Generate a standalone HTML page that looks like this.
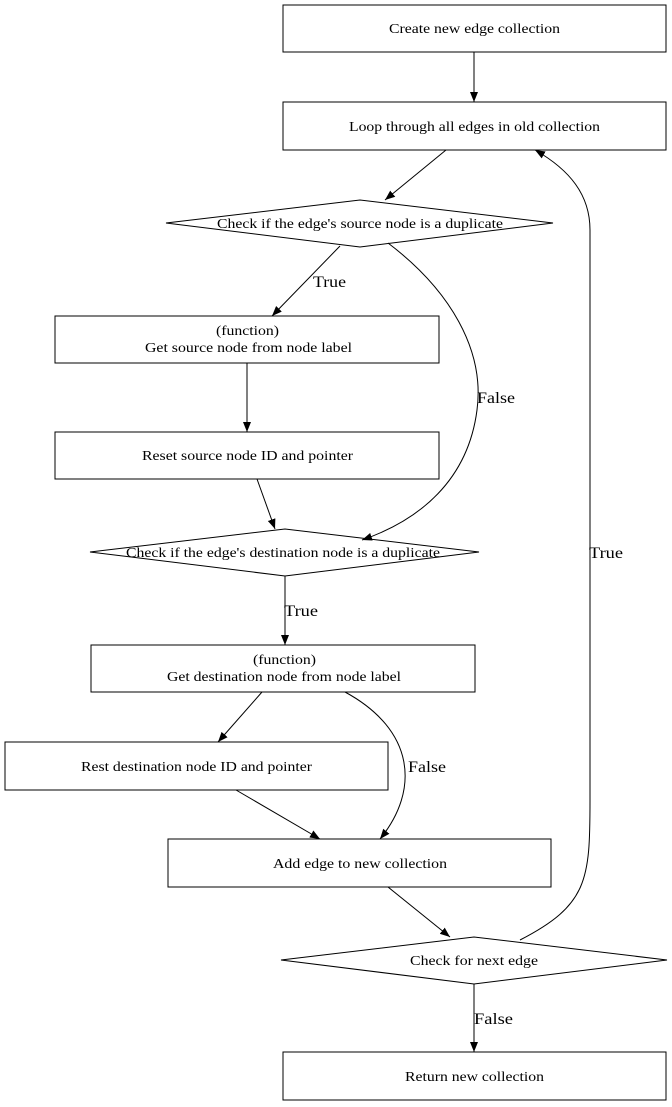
<!DOCTYPE html>
<html><head><meta charset="utf-8"><style>html,body{margin:0;padding:0;background:#fff}svg{display:block}</style></head>
<body>
<svg width="672" height="1107" viewBox="0 0 672 1107" xmlns="http://www.w3.org/2000/svg" style="font-family:'Liberation Serif',serif">
<defs><marker id="a" markerWidth="10" markerHeight="8" refX="10" refY="4" orient="auto" markerUnits="userSpaceOnUse"><path d="M0,0 L10,4 L0,8 Z" fill="#000"/></marker></defs>
<g fill="none" stroke="#000" stroke-width="1">
<rect x="283" y="5" width="383" height="47"/>
<rect x="283" y="102" width="383" height="48"/>
<polygon points="166,223 360,200 553,223 360,247"/>
<rect x="55" y="316" width="384" height="47"/>
<rect x="55" y="432" width="384" height="47"/>
<polygon points="90,552 285,529 479,552 285,576"/>
<rect x="91" y="645" width="384" height="47"/>
<rect x="5" y="742" width="383" height="48"/>
<rect x="168" y="839" width="383" height="48"/>
<polygon points="281,960 474,937 667,960 474,984"/>
<rect x="283" y="1052" width="383" height="48"/>
<g marker-end="url(#a)">
<path d="M474,52 L474,102"/>
<path d="M446,150 L385,200"/>
<path d="M340,246 L272,316"/>
<path d="M388,243 C450,290 485,350 477,410 C468,480 420,520 362,540"/>
<path d="M247,363 L247,432"/>
<path d="M257,479 L275,529"/>
<path d="M285,576 L285,645"/>
<path d="M262,692 L218,742"/>
<path d="M345,692 C415,730 420,790 380,839"/>
<path d="M236,790 L320,839"/>
<path d="M388,887 L450,937"/>
<path d="M520,940 C588,905 590,880 590,800 L590,230 C590,195 570,170 535,150"/>
<path d="M474,984 L474,1052"/>
</g></g>
<g font-size="14" fill="#000" lengthAdjust="spacingAndGlyphs">
<text x="389" y="33" textLength="171" lengthAdjust="spacingAndGlyphs">Create new edge collection</text>
<text x="349" y="131" textLength="251" lengthAdjust="spacingAndGlyphs">Loop through all edges in old collection</text>
<text x="217" y="228" textLength="286" lengthAdjust="spacingAndGlyphs">Check if the edge's source node is a duplicate</text>
<text x="216" y="335" textLength="63" lengthAdjust="spacingAndGlyphs">(function)</text>
<text x="145" y="352" textLength="207" lengthAdjust="spacingAndGlyphs">Get source node from node label</text>
<text x="142" y="460" textLength="211" lengthAdjust="spacingAndGlyphs">Reset source node ID and pointer</text>
<text x="126" y="557" textLength="314" lengthAdjust="spacingAndGlyphs">Check if the edge's destination node is a duplicate</text>
<text x="253" y="664" textLength="63" lengthAdjust="spacingAndGlyphs">(function)</text>
<text x="167" y="681" textLength="234" lengthAdjust="spacingAndGlyphs">Get destination node from node label</text>
<text x="81" y="771" textLength="231" lengthAdjust="spacingAndGlyphs">Rest destination node ID and pointer</text>
<text x="273" y="868" textLength="174" lengthAdjust="spacingAndGlyphs">Add edge to new collection</text>
<text x="410" y="965" textLength="128" lengthAdjust="spacingAndGlyphs">Check for next edge</text>
<text x="405" y="1081" textLength="139" lengthAdjust="spacingAndGlyphs">Return new collection</text>
</g>
<g font-size="16" fill="#000">
<text x="313" y="287" textLength="33" lengthAdjust="spacingAndGlyphs">True</text>
<text x="477" y="403" textLength="38" lengthAdjust="spacingAndGlyphs">False</text>
<text x="284" y="616" textLength="34" lengthAdjust="spacingAndGlyphs">True</text>
<text x="408" y="772" textLength="38" lengthAdjust="spacingAndGlyphs">False</text>
<text x="589" y="558" textLength="34" lengthAdjust="spacingAndGlyphs">True</text>
<text x="474" y="1024" textLength="39" lengthAdjust="spacingAndGlyphs">False</text>
</g>
</svg>
</body></html>
